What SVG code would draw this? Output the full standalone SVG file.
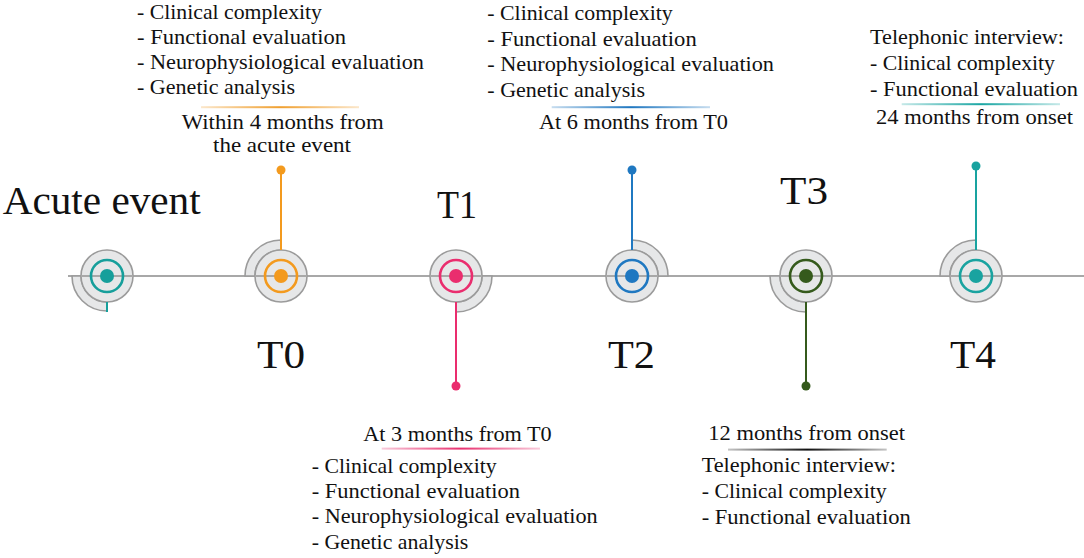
<svg xmlns="http://www.w3.org/2000/svg" width="1084" height="558" viewBox="0 0 1084 558">
<style>
text{font-family:"Liberation Serif","Times New Roman",serif;fill:#111}
.b{font-size:21px}
.big{font-size:41px}
.disc{fill:#e6e7e8;stroke:#9b9b9b;stroke-width:1.6}
.arc{fill:#e6e7e8;stroke:#9b9b9b;stroke-width:1.6}
.ring{fill:none;stroke-width:2.6}
.axis{stroke:#a8a8a8;stroke-width:2;fill:none}
.stem{stroke-width:2;fill:none}
</style>
<defs>
<linearGradient id="gO" x1="0" x2="1" y1="0" y2="0"><stop offset="0" stop-color="#f0a030" stop-opacity="0.25"/><stop offset="0.5" stop-color="#f0a030"/><stop offset="1" stop-color="#f0a030" stop-opacity="0.25"/></linearGradient>
<linearGradient id="gB" x1="0" x2="1" y1="0" y2="0"><stop offset="0" stop-color="#1f77c0" stop-opacity="0.25"/><stop offset="0.5" stop-color="#1f77c0"/><stop offset="1" stop-color="#1f77c0" stop-opacity="0.25"/></linearGradient>
<linearGradient id="gT" x1="0" x2="1" y1="0" y2="0"><stop offset="0" stop-color="#1aa6a3" stop-opacity="0.25"/><stop offset="0.5" stop-color="#1aa6a3"/><stop offset="1" stop-color="#1aa6a3" stop-opacity="0.25"/></linearGradient>
<linearGradient id="gP" x1="0" x2="1" y1="0" y2="0"><stop offset="0" stop-color="#e8306f" stop-opacity="0.25"/><stop offset="0.5" stop-color="#e8306f"/><stop offset="1" stop-color="#e8306f" stop-opacity="0.25"/></linearGradient>
<linearGradient id="gK" x1="0" x2="1" y1="0" y2="0"><stop offset="0" stop-color="#111" stop-opacity="0.25"/><stop offset="0.5" stop-color="#111"/><stop offset="1" stop-color="#111" stop-opacity="0.25"/></linearGradient>
</defs>

<g id="connectors">
<line class="axis" x1="68" y1="276" x2="1084" y2="276"/>
</g>

<!-- Acute event node -->
<g id="node-acute">
<path class="arc" d="M72 276 A35 35 0 0 0 107 311 L107 302 A26 26 0 0 1 81 276 Z"/>
<circle class="disc" cx="107" cy="276" r="26"/>
<line class="axis" x1="81" y1="276" x2="133" y2="276"/>
<circle class="ring" cx="107" cy="276" r="16" stroke="#169f9b"/>
<circle cx="107" cy="276" r="7" fill="#169f9b"/>
<line class="stem" x1="107" y1="302" x2="107" y2="312" stroke="#169f9b"/>
<text class="big" x="2.7" y="213.5" textLength="198" lengthAdjust="spacingAndGlyphs">Acute event</text>
</g>

<!-- T0 -->
<g id="node-t0">
<path class="arc" d="M245 276 A36 36 0 0 1 281 240 L281 250 A26 26 0 0 0 255 276 Z"/>
<circle class="disc" cx="281" cy="276" r="26"/>
<line class="axis" x1="255" y1="276" x2="307" y2="276"/>
<circle class="ring" cx="281" cy="276" r="16" stroke="#f39a1e"/>
<circle cx="281" cy="276" r="7" fill="#f39a1e"/>
<line class="stem" x1="281" y1="250" x2="281" y2="170" stroke="#f39a1e"/>
<circle cx="281" cy="170" r="4.5" fill="#f39a1e"/>
<text class="big" x="257" y="368" textLength="48" lengthAdjust="spacingAndGlyphs">T0</text>
<g class="b">
<text x="137" y="18.5" textLength="185" lengthAdjust="spacingAndGlyphs">- Clinical complexity</text>
<text x="137" y="43.5" textLength="209" lengthAdjust="spacingAndGlyphs">- Functional evaluation</text>
<text x="137" y="68.5" textLength="287" lengthAdjust="spacingAndGlyphs">- Neurophysiological evaluation</text>
<text x="137" y="93.5" textLength="158" lengthAdjust="spacingAndGlyphs">- Genetic analysis</text>
<text x="181.7" y="129" textLength="202" lengthAdjust="spacingAndGlyphs">Within 4 months from</text>
<text x="213" y="151.5" textLength="138" lengthAdjust="spacingAndGlyphs">the acute event</text>
</g>
<rect x="201" y="106.2" width="158" height="2" fill="url(#gO)"/>
</g>

<!-- T1 -->
<g id="node-t1">
<path class="arc" d="M492 276 A36 36 0 0 1 456 312 L456 302 A26 26 0 0 0 482 276 Z"/>
<circle class="disc" cx="456" cy="276" r="26"/>
<line class="axis" x1="430" y1="276" x2="482" y2="276"/>
<circle class="ring" cx="456" cy="276" r="16" stroke="#ea2d6e"/>
<circle cx="456" cy="276" r="7" fill="#ea2d6e"/>
<line class="stem" x1="456" y1="302" x2="456" y2="386" stroke="#ea2d6e"/>
<circle cx="456" cy="386" r="4.5" fill="#ea2d6e"/>
<text class="big" x="437" y="218" textLength="40" lengthAdjust="spacingAndGlyphs">T1</text>
<g class="b">
<text x="363.3" y="441" textLength="188.4" lengthAdjust="spacingAndGlyphs">At 3 months from T0</text>
<text x="311.7" y="473" textLength="185" lengthAdjust="spacingAndGlyphs">- Clinical complexity</text>
<text x="311.7" y="498" textLength="208.3" lengthAdjust="spacingAndGlyphs">- Functional evaluation</text>
<text x="311.7" y="523" textLength="286" lengthAdjust="spacingAndGlyphs">- Neurophysiological evaluation</text>
<text x="311.7" y="548.5" textLength="156.6" lengthAdjust="spacingAndGlyphs">- Genetic analysis</text>
</g>
<rect x="381.7" y="447.6" width="158.3" height="2" fill="url(#gP)"/>
</g>

<!-- T2 -->
<g id="node-t2">
<path class="arc" d="M668 276 A36 36 0 0 0 632 240 L632 250 A26 26 0 0 1 658 276 Z"/>
<circle class="disc" cx="632" cy="276" r="26"/>
<line class="axis" x1="606" y1="276" x2="658" y2="276"/>
<circle class="ring" cx="632" cy="276" r="16" stroke="#1f78c1"/>
<circle cx="632" cy="276" r="7" fill="#1f78c1"/>
<line class="stem" x1="632" y1="250" x2="632" y2="170" stroke="#1f78c1"/>
<circle cx="632" cy="170" r="4.5" fill="#1f78c1"/>
<text class="big" x="608" y="368" textLength="47" lengthAdjust="spacingAndGlyphs">T2</text>
<g class="b">
<text x="487.3" y="20" textLength="185.4" lengthAdjust="spacingAndGlyphs">- Clinical complexity</text>
<text x="487.3" y="45.5" textLength="209.4" lengthAdjust="spacingAndGlyphs">- Functional evaluation</text>
<text x="487.3" y="71" textLength="286.7" lengthAdjust="spacingAndGlyphs">- Neurophysiological evaluation</text>
<text x="487.3" y="96.5" textLength="157.7" lengthAdjust="spacingAndGlyphs">- Genetic analysis</text>
<text x="539" y="128.5" textLength="189" lengthAdjust="spacingAndGlyphs">At 6 months from T0</text>
</g>
<rect x="551.7" y="106.2" width="158.3" height="2" fill="url(#gB)"/>
</g>

<!-- T3 -->
<g id="node-t3">
<path class="arc" d="M770 276 A36 36 0 0 0 806 312 L806 302 A26 26 0 0 1 780 276 Z"/>
<circle class="disc" cx="806" cy="276" r="26"/>
<line class="axis" x1="780" y1="276" x2="832" y2="276"/>
<circle class="ring" cx="806" cy="276" r="16" stroke="#355a1c"/>
<circle cx="806" cy="276" r="7" fill="#355a1c"/>
<line class="stem" x1="806" y1="302" x2="806" y2="386" stroke="#355a1c"/>
<circle cx="806" cy="386" r="4.5" fill="#355a1c"/>
<text class="big" x="780" y="204" textLength="48" lengthAdjust="spacingAndGlyphs">T3</text>
<g class="b">
<text x="708.3" y="440" textLength="196.7" lengthAdjust="spacingAndGlyphs">12 months from onset</text>
<text x="701.7" y="472" textLength="194.3" lengthAdjust="spacingAndGlyphs">Telephonic interview:</text>
<text x="701.7" y="498" textLength="185" lengthAdjust="spacingAndGlyphs">- Clinical complexity</text>
<text x="701.7" y="523.5" textLength="209" lengthAdjust="spacingAndGlyphs">- Functional evaluation</text>
</g>
<rect x="728" y="448.6" width="158.7" height="2" fill="url(#gK)"/>
</g>

<!-- T4 -->
<g id="node-t4">
<path class="arc" d="M940 276 A36 36 0 0 1 976 240 L976 250 A26 26 0 0 0 950 276 Z"/>
<circle class="disc" cx="976" cy="276" r="26"/>
<line class="axis" x1="950" y1="276" x2="1002" y2="276"/>
<circle class="ring" cx="976" cy="276" r="16" stroke="#19a3a0"/>
<circle cx="976" cy="276" r="7" fill="#19a3a0"/>
<line class="stem" x1="976" y1="250" x2="976" y2="166" stroke="#19a3a0"/>
<circle cx="976" cy="166" r="4.5" fill="#19a3a0"/>
<text class="big" x="950" y="368" textLength="46" lengthAdjust="spacingAndGlyphs">T4</text>
<g class="b">
<text x="870" y="44" textLength="194" lengthAdjust="spacingAndGlyphs">Telephonic interview:</text>
<text x="870" y="70" textLength="185" lengthAdjust="spacingAndGlyphs">- Clinical complexity</text>
<text x="870" y="96" textLength="208" lengthAdjust="spacingAndGlyphs">- Functional evaluation</text>
<text x="876" y="123.5" textLength="197" lengthAdjust="spacingAndGlyphs">24 months from onset</text>
</g>
<rect x="901.7" y="103.2" width="158.3" height="2" fill="url(#gT)"/>
</g>
</svg>
